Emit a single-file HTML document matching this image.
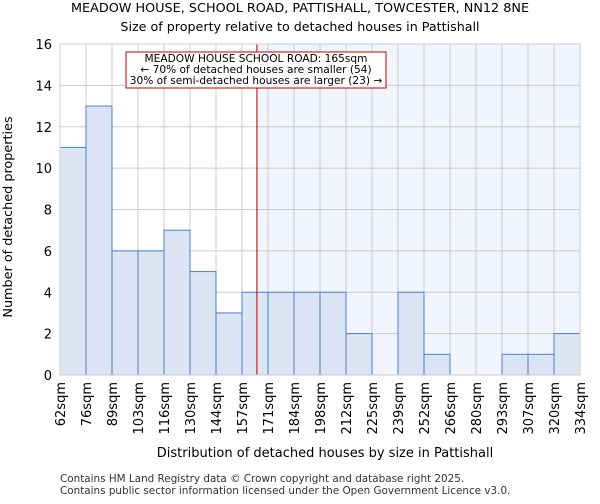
<!DOCTYPE html>
<html><head><meta charset="utf-8"><style>
body{margin:0;background:#fff;font-family:"DejaVu Sans","Liberation Sans",sans-serif;}
</style></head><body>
<svg id="chart" width="600" height="500" xmlns="http://www.w3.org/2000/svg" font-family="DejaVu Sans, Liberation Sans, sans-serif">
<text x="300" y="12" text-anchor="middle" font-size="12.8">MEADOW HOUSE, SCHOOL ROAD, PATTISHALL, TOWCESTER, NN12 8NE</text>
<text x="300" y="31" text-anchor="middle" font-size="12.7">Size of property relative to detached houses in Pattishall</text>
<g id="plot"></g>
<text x="325" y="457" text-anchor="middle" font-size="13">Distribution of detached houses by size in Pattishall</text>
<text x="12" y="217" text-anchor="middle" font-size="12.8" transform="rotate(-90 12 217)">Number of detached properties</text>
<text x="60" y="482" font-size="10.4" fill="#333">Contains HM Land Registry data © Crown copyright and database right 2025.</text>
<text x="60" y="494" font-size="10.4" fill="#333">Contains public sector information licensed under the Open Government Licence v3.0.</text>
</svg>
<script>
const binEdges=[62,76,89,103,116,130,144,157,171,184,198,212,225,239,252,266,280,293,307,320,334];
const counts=[11,13,6,6,7,5,3,4,4,4,4,2,0,4,1,0,0,1,1,2];
const yTicks=[0,2,4,6,8,10,12,14,16];
const markerValue=165;
const X0=60,X1=580,Y0=375,Y1=44,ymax=16;
const ns="http://www.w3.org/2000/svg";
const g=document.getElementById('plot');
function xs(i){return X0+i*(X1-X0)/(binEdges.length-1);}
function xv(v){return X0+(v-binEdges[0])/(binEdges[binEdges.length-1]-binEdges[0])*(X1-X0);}
function ys(v){return Y0-v/ymax*(Y0-Y1);}
function mk(t,a){const e=document.createElementNS(ns,t);for(const k in a)e.setAttribute(k,a[k]);g.appendChild(e);return e;}
const mx=xv(markerValue);
let e=mk('rect',{x:mx,y:Y1,width:X1-mx,height:Y0-Y1,fill:'#f2f5fd'});


for(let i=0;i<binEdges.length;i++){const l=mk('line',{x1:xs(i),x2:xs(i),y1:Y1,y2:Y0,stroke:'#ccc','stroke-width':1});

}
yTicks.forEach(t=>{const l=mk('line',{x1:X0,x2:X1,y1:ys(t),y2:ys(t),stroke:'#ccc','stroke-width':1});


const tx=mk('text',{x:X0-8,y:ys(t)+5,'text-anchor':'end','font-size':13});tx.textContent=t;

});
counts.forEach((c,i)=>{if(c<=0)return;const r=mk('rect',{x:xs(i),y:ys(c),width:xs(i+1)-xs(i),height:Y0-ys(c),fill:'#dce5f4',stroke:'#4a7fd4','stroke-width':1});

});
binEdges.forEach((b,i)=>{const x=xs(i)+5;const t=mk('text',{x:x,y:382,'text-anchor':'end','font-size':13,transform:`rotate(-90 ${x} 382)`});t.textContent=b+'sqm';

});
e=mk('line',{x1:mx,x2:mx,y1:Y1,y2:Y0,stroke:'#b00000','stroke-width':1});


e=mk('rect',{x:X0,y:Y1,width:X1-X0,height:Y0-Y1,fill:'none',stroke:'#ccc'});


e=mk('rect',{x:126,y:52,width:260,height:36,fill:'#fff',stroke:'#c00000','stroke-width':1});


['MEADOW HOUSE SCHOOL ROAD: 165sqm','← 70% of detached houses are smaller (54)','30% of semi-detached houses are larger (23) →'].forEach((s,i)=>{const t=mk('text',{x:256,y:62+i*11,'text-anchor':'middle','font-size':10.6});t.textContent=s;

});
</script>
</body></html>
